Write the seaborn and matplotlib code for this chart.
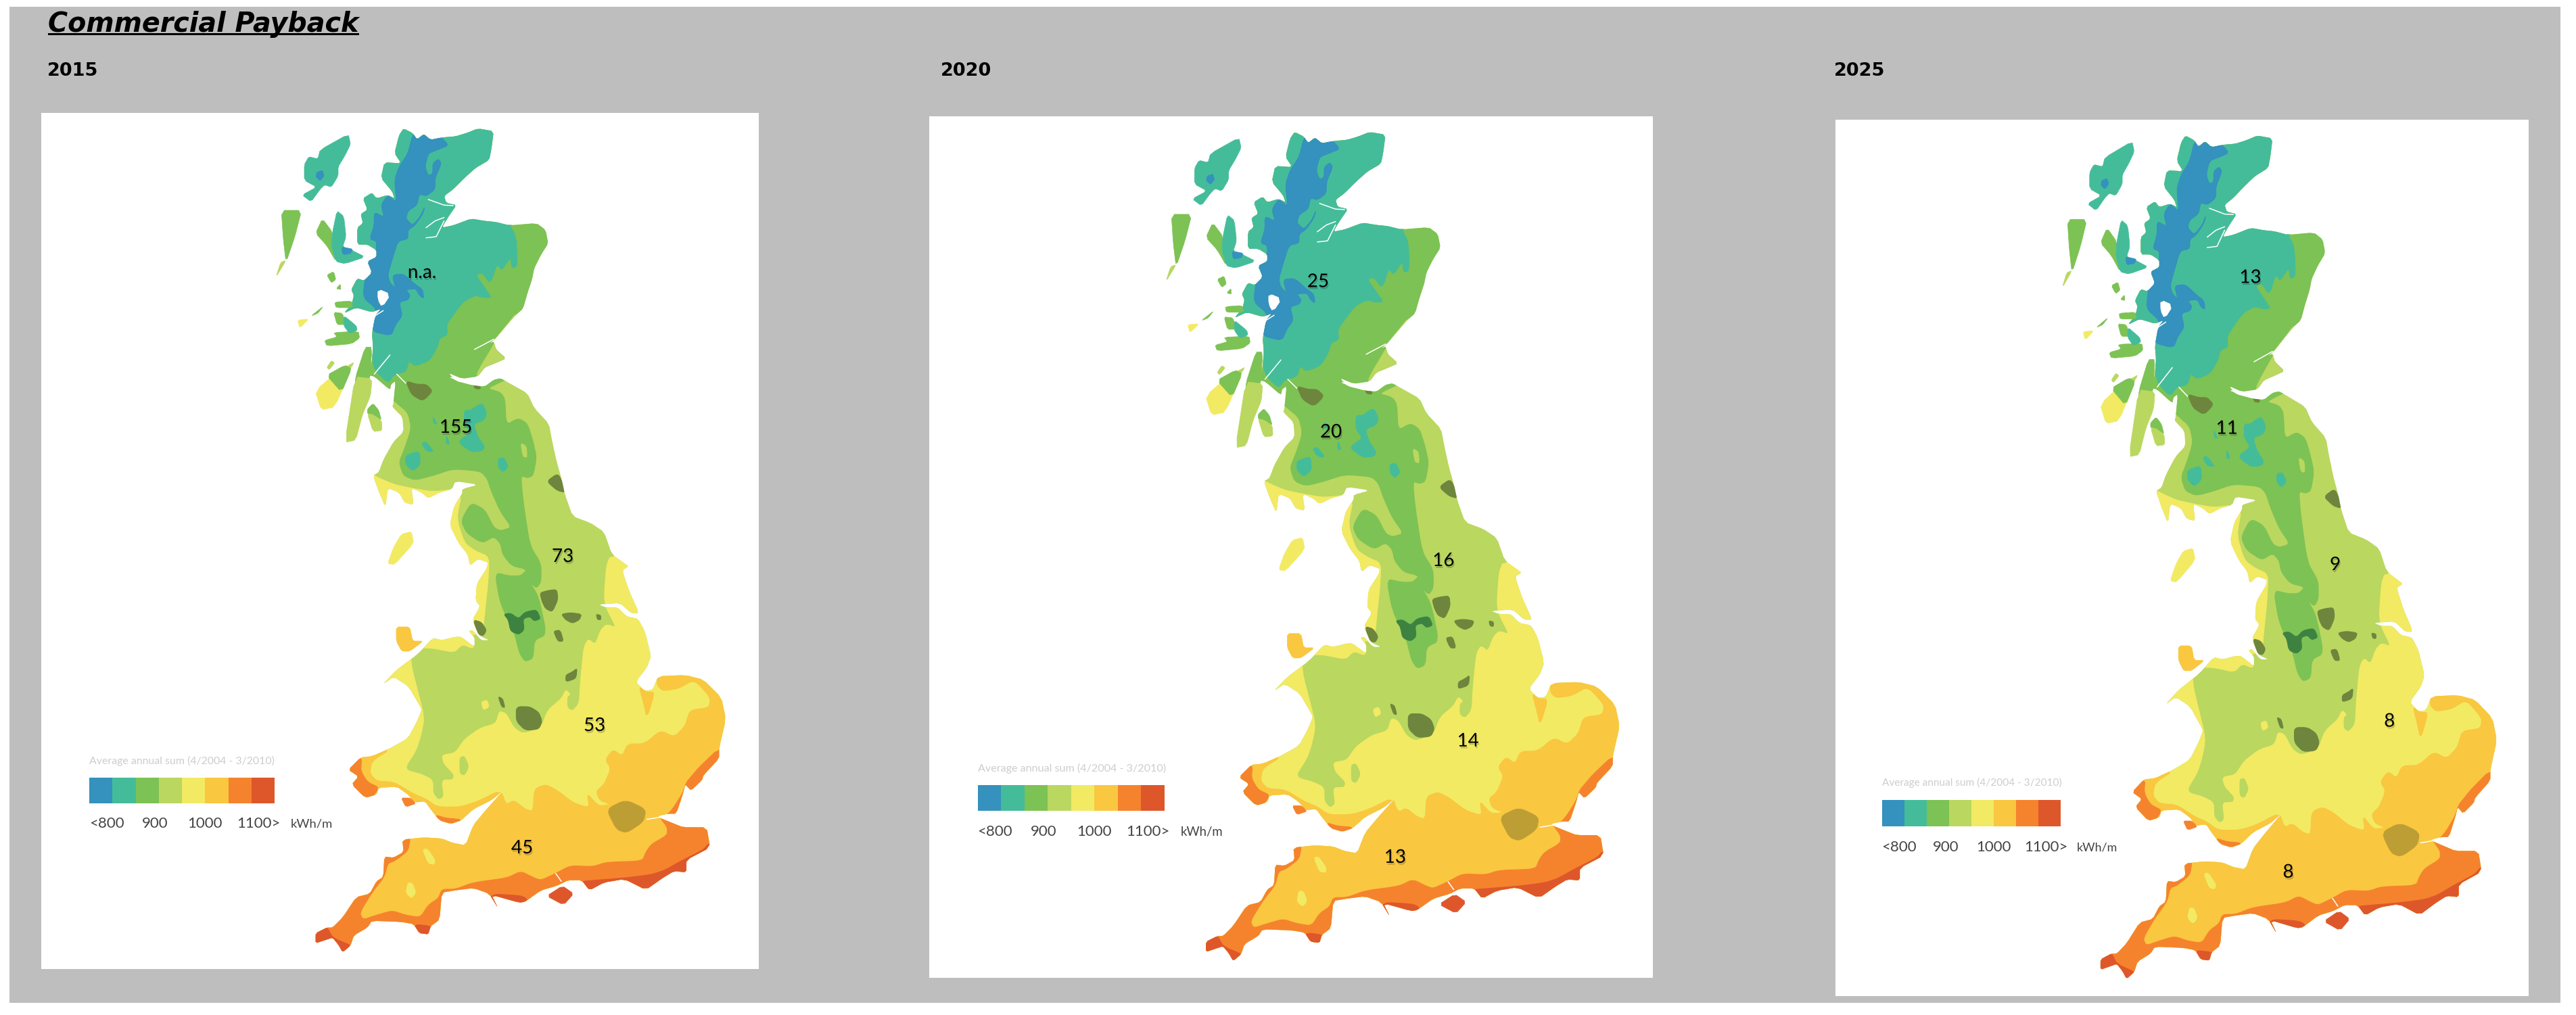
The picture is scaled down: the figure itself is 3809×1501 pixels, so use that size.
import matplotlib
matplotlib.use("Agg")
import matplotlib.pyplot as plt
import matplotlib.patheffects as pe
import seaborn as sns
import numpy as np
from matplotlib.colors import ListedColormap
from matplotlib.patches import Polygon, Rectangle, PathPatch
from matplotlib.path import Path

# payback years per region, north to south
years = ["2015", "2020", "2025"]
payback_2015 = ["n.a.", "155", "73", "53", "45"]
payback_2020 = ["25", "20", "16", "14", "13"]
payback_2025 = ["13", "11", "9", "8", "8"]

# colour key
key_ticks = ["<800", "900", "1000", "1100>"]
key_unit = "kWh/m"
key_title = "Average annual sum (4/2004 - 3/2010)"
band_colors = ["#3591BD", "#44BC9A", "#7DC254", "#BAD760",
               "#F2EA63", "#F9C740", "#F5832D", "#DE572B"]
BLUE, TEAL, GREEN, LIME, YELLOW, AMBER, ORANGE, RED = band_colors
OLIVE = "#6E853D"
DARK_GREEN = "#3D8240"
OCHRE = "#BD9E35"


def pts(ox, oy, xy):
    return [(ox + x / 3, oy + y / 3) for x, y in xy]


A = (440, 180)
B = (540, 540)
C = (640, 800)
D = (440, 1050)
E = (780, 960)

coast = (
    pts(*A, [(470, 30), (510, 50), (530, 78), (560, 55), (590, 80), (640, 70), (700, 65), (750, 50), (800, 30),
             (870, 42), (860, 120), (850, 170), (790, 205), (740, 250), (690, 300), (650, 330), (660, 360),
             (705, 370), (670, 420), (640, 470), (690, 460), (770, 430), (830, 440), (880, 445), (940, 460),
             (1060, 450), (1100, 480), (1112, 540), (1080, 590), (1050, 650), (1040, 700), (1020, 760),
             (1000, 830), (965, 860), (930, 900), (880, 960), (850, 985), (870, 975), (880, 1010), (925, 1050),
             (880, 1070), (830, 1090), (800, 1130)])
    + pts(*B, [(430, 60), (370, 35), (400, 70), (480, 90), (530, 95), (570, 65), (600, 58), (640, 80), (720, 125),
               (750, 190), (815, 260), (830, 340), (850, 430), (870, 500), (885, 570), (920, 670), (1000, 700),
               (1060, 740), (1095, 840), (1165, 890)])
    + pts(*C, [(865, 115), (840, 130), (870, 220), (915, 320), (880, 320), (830, 275), (735, 282), (770, 295),
               (820, 295), (860, 335), (910, 345), (940, 400), (968, 510), (950, 560), (900, 625), (940, 665),
               (975, 660), (1000, 600)])
    + pts(*E, [(700, 115), (780, 135), (860, 215), (880, 310), (850, 440), (850, 485), (780, 560), (775, 580),
               (725, 628), (700, 600), (690, 640), (660, 730), (625, 730), (580, 740), (590, 750), (640, 770),
               (690, 790), (795, 790), (810, 880), (705, 935), (705, 990), (650, 985), (600, 1015), (525, 1068),
               (430, 1020), (340, 1035), (275, 1070), (240, 1025), (180, 1025), (130, 1050), (60, 1070)])
    + pts(*D, [(1010, 850), (985, 855), (860, 820), (890, 880), (850, 815), (780, 790), (700, 800), (640, 810),
               (630, 930), (590, 960), (580, 995), (540, 990), (515, 950), (460, 940), (330, 935), (310, 965),
               (250, 1000), (235, 1045), (200, 1075), (180, 1040), (155, 1010), (125, 1020), (80, 1035), (80, 990),
               (130, 965), (155, 965), (200, 920), (260, 830), (320, 815), (350, 760), (380, 740), (385, 650),
               (425, 655), (470, 630), (465, 575), (560, 565), (640, 570), (690, 590), (745, 600), (780, 510),
               (830, 450), (915, 355), (860, 400), (780, 440), (725, 490), (680, 505), (630, 490), (590, 440),
               (565, 405), (520, 410), (490, 375), (440, 340), (360, 345), (350, 375), (300, 390), (240, 330),
               (270, 295), (225, 265), (280, 210), (330, 205), (410, 170), (490, 125), (530, 50), (550, 0)])
    + [(622, 1046), (604, 1015), (582, 1001), (566, 1012), (586, 991), (618, 967)]
    + pts(*C, [(0, 430), (40, 440), (100, 425), (125, 425), (185, 470), (185, 430), (160, 400), (175, 395),
               (215, 440), (250, 440), (205, 420), (175, 350), (210, 290), (190, 265), (195, 190), (240, 120),
               (245, 95), (200, 80), (165, 110), (155, 60), (115, 10)])
    + pts(*B, [(375, 710), (395, 625), (430, 570), (430, 550), (500, 530), (400, 515), (385, 550), (330, 565),
               (280, 590), (250, 565), (205, 545), (215, 620), (175, 610), (150, 565), (100, 545), (90, 630),
               (60, 560), (35, 490), (60, 475), (80, 420), (125, 340), (170, 295), (165, 230), (120, 185),
               (125, 170), (135, 70)])
    + pts(*A, [(415, 1165), (410, 1190), (340, 1130), (315, 1125), (330, 1060), (335, 1000), (330, 940),
               (345, 860), (370, 830), (330, 845), (260, 825), (205, 850), (240, 810), (250, 770), (238, 745),
               (265, 695), (295, 705), (330, 670), (310, 620), (350, 600), (350, 570), (310, 545), (265, 545),
               (265, 470), (290, 450), (280, 410), (310, 390), (290, 340), (330, 315), (350, 340), (400, 325),
               (430, 340), (420, 310), (370, 250), (385, 180), (460, 185), (430, 140), (450, 60)])
)

green_band = (
    pts(*A, [(-100, -100), (1300, -100), (1300, 1000)])
    + pts(*B, [(530, 100), (600, 120), (620, 150), (625, 265), (680, 235), (720, 260), (745, 340), (760, 410),
               (745, 490), (720, 500), (690, 490), (700, 600), (730, 800), (780, 880), (780, 960), (760, 990),
               (730, 960), (715, 905), (650, 890), (610, 840), (600, 790), (570, 760), (520, 790), (450, 745),
               (425, 690), (470, 610), (530, 640), (570, 720), (600, 735), (650, 720), (600, 650), (560, 560),
               (540, 500), (510, 470), (390, 460), (300, 490), (220, 510), (170, 490), (150, 430), (175, 370),
               (205, 280), (190, 210), (130, 160), (100, 130), (0, 130)])
)
green_midlands = pts(*C, [(275, 140), (340, 155), (390, 155), (420, 125), (430, 180), (470, 250), (505, 415),
                          (450, 440), (445, 520), (410, 535), (385, 500), (360, 400), (300, 280)])
lime_fife = pts(*A, [(965, 855), (930, 900), (880, 960), (870, 990), (810, 1090), (790, 1135), (1000, 1135), (1000, 855)])
lime_hole = pts(*B, [(690, 345), (715, 360), (718, 410), (700, 405)])

teal_north = pts(*A, [(935, 450), (970, 510), (975, 640), (950, 650), (945, 600), (905, 660), (885, 630), (855, 720),
                      (820, 670), (790, 680), (840, 750), (860, 780), (820, 780), (790, 770), (740, 795), (710, 830),
                      (660, 900), (665, 945), (630, 960), (620, 1000), (585, 1060), (520, 1085), (495, 1060),
                      (480, 1110), (430, 1120), (400, 1160), (340, 1100), (325, 1000), (335, 950), (230, 910),
                      (180, 800), (220, 300), (400, -50), (900, -50), (1200, 300)])
teal_spots = [
    pts(*B, [(180, 400), (240, 380), (245, 440), (210, 470), (180, 440)]),
    pts(*B, [(250, 345), (270, 340), (305, 385), (270, 380)]),
    pts(*B, [(300, 225), (318, 262), (305, 260)]),
    pts(*B, [(360, 310), (375, 350), (360, 350)]),
    pts(*B, [(440, 200), (470, 200), (495, 180), (520, 170), (540, 215), (525, 245), (480, 260), (500, 320),
             (530, 360), (520, 380), (470, 385), (410, 340), (470, 300), (440, 260)]),
    pts(*B, [(590, 415), (615, 410), (635, 450), (610, 475), (590, 450)]),
]
blue_band = pts(*A, [(510, 60), (530, 50), (560, 55), (590, 80), (640, 70), (670, 105), (620, 125), (580, 140), (565, 200),
                     (580, 240), (600, 230), (600, 185), (625, 165), (638, 185), (610, 250), (610, 300), (570, 330),
                     (540, 320), (530, 370), (490, 395), (480, 430), (510, 460), (545, 420), (565, 375), (555, 410),
                     (520, 460), (490, 480), (490, 520), (445, 530), (420, 610), (400, 680), (410, 715), (435, 740),
                     (420, 680), (470, 675), (520, 720), (555, 745), (560, 785), (540, 770), (525, 740), (480, 745),
                     (500, 770), (490, 790), (450, 800), (465, 860), (435, 900), (415, 950), (330, 930), (340, 880),
                     (350, 830), (290, 780), (300, 690), (320, 680), (310, 620), (350, 570), (350, 530), (320, 520),
                     (340, 460), (340, 400), (385, 425), (370, 370), (400, 325), (440, 360), (430, 260), (450, 200),
                     (490, 140)])

yellow_galloway = pts(*B, [(0, 470), (70, 505), (130, 530), (200, 545), (300, 562), (400, 550), (410, 570), (300, 700), (0, 700)])
yellow_cumbria = pts(*B, [(430, 560), (405, 680), (440, 790), (490, 825), (550, 850), (545, 960), (530, 1100), (520, 1200), (250, 1200), (250, 560)])
yellow_south = (
    pts(*C, [(1500, 60), (790, 60), (770, 110), (760, 250), (770, 300), (815, 385), (770, 370), (745, 395), (720, 460),
             (690, 435), (670, 470), (655, 620), (650, 720), (620, 755), (595, 740), (595, 690), (610, 680),
             (590, 660), (570, 700), (510, 750), (480, 830), (400, 855), (360, 830), (325, 765), (295, 755),
             (280, 810), (210, 830), (140, 880), (100, 940), (40, 950)])
    + pts(*D, [(650, 240), (695, 285), (690, 310), (640, 310), (650, 385), (625, 400), (600, 370), (600, 310),
               (550, 285), (490, 270), (480, 250), (525, 180), (545, 120), (560, 50), (555, 0)])
    + [(606, 977), (614, 958)]
    + pts(*C, [(0, 475), (95, 495), (130, 458), (185, 480), (170, 400), (-500, 400), (-500, 1800), (1500, 1800)])
)
yellow_spot = pts(*C, [(215, 715), (240, 705), (250, 735), (225, 750)])
lime_spot = pts(*C, [(120, 960), (140, 955), (160, 1000), (140, 1040), (120, 1030)])

amber_wales = pts(*D, [(420, 170), (330, 225), (320, 280), (350, 315), (430, 320), (510, 370), (570, 395), (620, 430),
                       (720, 430), (800, 405), (900, 355), (880, 420), (700, 520), (400, 500), (150, 400), (150, 200)])
amber_south = (
    pts(*D, [(900, 350), (925, 420), (960, 400), (1010, 440), (1045, 450)])
    + pts(*E, [(30, 620), (80, 600), (130, 625), (200, 680), (275, 705), (265, 640), (300, 680), (320, 695), (370, 690),
               (320, 670), (305, 630), (340, 600), (370, 530), (345, 490), (380, 445), (420, 475), (445, 420),
               (520, 420), (590, 360), (650, 390), (700, 340), (720, 270), (805, 260), (812, 215), (740, 135),
               (670, 175), (600, 185), (575, 160), (575, 120), (600, -50), (1200, -50), (1200, 1400), (-900, 1400)])
    + pts(*D, [(0, 560), (760, 520)])
)
amber_wash = pts(*E, [(495, 165), (525, 190), (565, 190), (530, 305), (515, 240)])
yellow_devon = [
    pts(*D, [(555, 620), (575, 615), (610, 665), (605, 685), (580, 680)]),
    pts(*D, [(490, 765), (510, 770), (525, 810), (505, 835), (480, 810)]),
]

orange_south = (
    pts(*E, [(1300, 430), (860, 430), (760, 525), (735, 555), (705, 590), (690, 635), (650, 700), (625, 730), (600, 745),
             (590, 750), (620, 790), (620, 825), (550, 865), (525, 900), (510, 940), (350, 945), (290, 965),
             (190, 960), (125, 995), (60, 1025), (30, 1015), (-30, 985)])
    + pts(*D, [(930, 745), (780, 765), (700, 795), (640, 795), (625, 835), (580, 865), (545, 920), (480, 910),
               (420, 890), (350, 910), (290, 930), (275, 900), (330, 810), (385, 740), (400, 680), (430, 670),
               (490, 625), (500, 570), (480, 540), (-100, 540), (-100, 1300)])
    + pts(*E, [(1300, 1300)])
)
orange_pembroke = pts(*D, [(285, 205), (280, 270), (310, 320), (365, 345), (300, 420), (150, 350), (150, 220)])
orange_gwent = pts(*D, [(610, 465), (660, 480), (725, 485), (720, 510), (620, 510)])

red_parts = [
    pts(*D, [(155, 1010), (130, 960), (70, 990), (60, 1050), (125, 1030), (185, 1040), (200, 1090), (250, 1050)]),
    pts(*D, [(515, 950), (600, 960), (590, 1020), (530, 1010)]),
    pts(*D, [(850, 815), (1015, 825), (1020, 880), (880, 890)]),
    pts(*E, [(240, 1030), (300, 1025), (430, 1015), (550, 1000), (610, 980), (680, 940), (780, 890), (805, 860),
             (830, 900), (720, 1010), (530, 1090), (270, 1095), (230, 1050)]),
]

olive_towns = [
    pts(*C, [(475, 230), (510, 220), (550, 215), (555, 260), (530, 315), (500, 300), (485, 270)]),
    pts(*C, [(570, 325), (610, 318), (660, 325), (650, 350), (620, 365), (590, 350)]),
    pts(*C, [(725, 325), (745, 330), (745, 350), (730, 348)]),
    pts(*C, [(535, 400), (565, 395), (580, 445), (555, 445)]),
    pts(*C, [(590, 595), (620, 580), (640, 565), (635, 610), (590, 625)]),
    pts(*C, [(290, 690), (310, 700), (320, 740), (305, 735)]),
    pts(*C, [(370, 735), (430, 735), (470, 760), (485, 800), (470, 835), (410, 840), (370, 800)]),
    pts(*C, [(180, 350), (215, 360), (238, 395), (225, 420), (200, 415)]),
    pts(*B, [(805, 515), (855, 480), (880, 530), (885, 565), (850, 555)]),
    pts(*B, [(180, 70), (230, 85), (270, 85), (300, 115), (255, 160), (205, 130)]),
    pts(*B, [(480, 90), (510, 95), (510, 105), (490, 105)]),
]
dark_manchester = pts(*C, [(315, 325), (345, 320), (380, 345), (410, 315), (460, 305), (478, 345), (450, 355), (430, 335),
                           (400, 345), (405, 395), (380, 415), (345, 400), (335, 350)])
ochre_london = pts(*E, [(350, 710), (435, 668), (525, 710), (515, 765), (440, 815), (395, 800)])

# islands and loose bits, not clipped to the mainland
islands = [
    (TEAL, pts(*A, [(225, 55), (235, 100), (210, 150), (180, 200), (180, 240), (150, 290), (120, 280), (100, 300), (60, 355),
                    (20, 325), (85, 290), (30, 260), (30, 190), (50, 155), (90, 165), (100, 125)])),
    (BLUE, pts(*A, [(85, 225), (110, 215), (118, 240), (100, 262), (82, 245)])),
    (GREEN, pts(*A, [(110, 430), (155, 490), (150, 550), (170, 620), (130, 550), (80, 495)])),
    (TEAL, pts(*A, [(175, 395), (205, 420), (215, 510), (200, 555), (240, 570), (300, 600), (210, 630), (170, 620), (150, 550), (155, 490)])),
    (BLUE, pts(*A, [(195, 555), (245, 565), (235, 585), (200, 590)])),
    (GREEN, pts(*A, [(130, 680), (160, 665), (170, 700), (150, 715)])),
    (GREEN, pts(*A, [(172, 740), (190, 720), (192, 745)])),
    (GREEN, pts(*A, [(165, 800), (240, 795), (245, 825), (170, 825)])),
    (GREEN, pts(*A, [(160, 845), (200, 850), (210, 900), (175, 900)])),
    (GREEN, pts(*A, [(160, 935), (270, 930), (275, 960), (240, 985), (130, 995), (120, 970), (175, 955)])),
    (TEAL, pts(*A, [(205, 860), (260, 905), (265, 925), (230, 940), (205, 905)])),
    (GREEN, pts(*A, [(60, 862), (115, 818), (90, 850)])),
    (YELLOW, pts(*A, [(0, 880), (50, 875), (10, 915)])),
    (GREEN, [(416, 311), (446, 311), (436, 350), (423, 388), (419, 355)]),
    (LIME, [(415, 388), (423, 385), (408, 410)]),
    (GREEN, pts(*B, [(35, 170), (60, 200), (72, 245), (35, 220), (10, 215), (10, 195)])),
    (LIME, pts(*B, [(10, 215), (35, 220), (72, 245), (75, 290), (35, 295)])),
    (GREEN, pts(*A, [(300, 1000), (330, 1000), (320, 1150), (260, 1200), (255, 1140)])),
    (LIME, [(525, 557), (510, 654), (526, 651), (536, 613), (548, 585), (550, 560)]),
    (LIME, pts(*A, [(150, 1060), (165, 1070), (140, 1100), (130, 1090)])),
    (LIME, pts(*A, [(255, 1065), (190, 1155), (210, 1090)])),
    (YELLOW, [(466, 578), (510, 540), (520, 545), (495, 602), (475, 606)]),
    (GREEN, [(483, 555), (510, 540), (520, 545), (505, 580)]),
    (YELLOW, pts(*B, [(205, 738), (215, 790), (130, 885), (100, 880), (125, 810), (160, 750)])),
    (AMBER, [(586, 927), (606, 927), (610, 948), (626, 948), (606, 963), (594, 963), (586, 948)]),
    (ORANGE, pts(*D, [(460, 390), (500, 390), (525, 415), (480, 430)])),
    (RED, pts(*E, [(155, 1050), (205, 1085), (160, 1135), (85, 1095)])),
]

# lochs and firths, thin cuts drawn over the land
loch_blob = pts(*A, [(355, 740), (415, 765), (375, 825), (355, 790)])
loch_cuts = [
    pts(*A, [(380, 838), (345, 860), (320, 915)]),
    pts(*A, [(570, 470), (610, 440), (650, 425)]),
    pts(*A, [(570, 515), (615, 510), (650, 440)]),
    pts(*A, [(785, 1010), (870, 965)]),
    pts(*A, [(680, 1135), (770, 1165)]),
    pts(*A, [(340, 1120), (410, 1035)]),
    pts(*A, [(580, 345), (650, 370), (690, 372)]),
    pts(*A, [(440, 1120), (480, 1160)]),
    pts(*E, [(125, 995), (150, 1030)]),
    pts(*E, [(530, 755), (590, 745)]),
]

# where the numbers sit inside each panel
label_xy = [
    [(624, 403), (674, 632), (832, 823), (879, 1073), (772, 1254)],
    [(631, 410), (650, 631), (815, 820), (851, 1085), (744, 1256)],
    [(696, 395), (660, 613), (826, 810), (909, 1036), (754, 1254)],
]
key_tick_x = [132, 210, 277, 350]
panel_boxes = [(61, 167, 1122, 1433), (1374, 172, 2444, 1446), (2714, 177, 3739, 1473)]
year_xy = [(70, 105), (1391, 105), (2712, 105)]

W, H = 3809, 1501


def chaikin(xy, n=2, r=0.25):
    p = np.array(xy, dtype=float)
    for _ in range(n):
        q = np.roll(p, -1, axis=0)
        p = np.column_stack([(1 - r) * p + r * q, r * p + (1 - r) * q]).reshape(-1, 2)
    return p


def fit_text(ax, x0, x1, y, s, colour, size_guess):
    # squeeze the label to the width it has in the key
    t = ax.text(x0, y, s, fontsize=size_guess, color=colour, va="center", family="Lato")
    box = t.get_window_extent(renderer=ax.figure.canvas.get_renderer())
    px0 = ax.transData.transform((x0, y))[0]
    px1 = ax.transData.transform((x1, y))[0]
    t.set_fontsize(size_guess * (px1 - px0) / box.width)


def draw_map(ax, payback, positions):
    base = chaikin(coast, 1, 0.15)
    ax.add_patch(Polygon(base, closed=True, fc=LIME, ec="none"))
    land_clip = PathPatch(Path(np.vstack([base, base[:1]])), transform=ax.transData)

    big = [(GREEN, green_band), (LIME, lime_fife), (LIME, lime_hole), (GREEN, green_midlands), (TEAL, teal_north)]
    big += [(TEAL, s) for s in teal_spots]
    big += [(BLUE, blue_band), (YELLOW, yellow_galloway), (YELLOW, yellow_cumbria), (YELLOW, yellow_south),
            (YELLOW, yellow_spot), (LIME, lime_spot), (AMBER, amber_wales), (AMBER, amber_south),
            (AMBER, amber_wash)]
    big += [(YELLOW, s) for s in yellow_devon]
    big += [(ORANGE, orange_south), (ORANGE, orange_pembroke), (ORANGE, orange_gwent)]
    big += [(RED, s) for s in red_parts]
    big += [(OLIVE, s) for s in olive_towns]
    big += [(DARK_GREEN, dark_manchester), (OCHRE, ochre_london)]
    for colour, outline in big:
        patch = Polygon(chaikin(outline, 2, 0.18), closed=True, fc=colour, ec=colour, lw=0.8)
        ax.add_patch(patch)
        patch.set_clip_path(land_clip)

    for colour, outline in islands:
        ax.add_patch(Polygon(chaikin(outline, 1, 0.15), closed=True, fc=colour, ec=colour, lw=0.5))

    ax.add_patch(Polygon(chaikin(loch_blob, 1), closed=True, fc="white", ec="none"))
    for cut in loch_cuts:
        c = np.array(cut)
        ax.plot(c[:, 0], c[:, 1], color="white", lw=1.1, solid_capstyle="round")

    for (x, y), label in zip(positions, payback):
        t = ax.text(x, y, label, ha="center", va="center", fontsize=20, color="black", family="Lato")
        t.set_path_effects([pe.withSimplePatchShadow(offset=(1, -2), shadow_rgbFace="black", alpha=0.2)])


def draw_key(ax):
    fit_text(ax, 132, 406, 1125, key_title, "#cdcdcd", 12)
    bar = ax.inset_axes([132, 1150, 274, 38], transform=ax.transData)
    sns.heatmap(np.arange(len(band_colors)).reshape(1, -1), ax=bar, cmap=ListedColormap(band_colors),
                cbar=False, xticklabels=False, yticklabels=False)
    for x, label in zip(key_tick_x, key_ticks):
        ax.text(x, 1218, label, fontsize=16, color="#444444", va="center", family="Lato")
    fit_text(ax, 430, 492, 1219, key_unit, "#444444", 12)


sns.set_theme(style="white")
plt.rcParams["font.family"] = ["DejaVu Sans"]

fig = plt.figure(figsize=(W / 100, H / 100), dpi=100, facecolor="white")

# grey page behind the three maps
fig.add_artist(Rectangle((14 / W, 1 - 1483 / H), (3786 - 14) / W, (1483 - 10) / H,
                         transform=fig.transFigure, fc="#BEBEBE", ec="none", zorder=-5))

fig.text(71 / W, 1 - 47 / H, "Commercial Payback", fontsize=28.5, fontweight="bold", fontstyle="italic",
         color="black", va="baseline")
fig.add_artist(Rectangle((71 / W, 1 - 52 / H), 460 / W, 3 / H, transform=fig.transFigure, fc="black", ec="none"))

for year, (x, y) in zip(years, year_xy):
    fig.text(x / W, 1 - y / H, year, fontsize=19.5, fontweight="bold", color="black", va="center")

for i, (box, payback) in enumerate(zip(panel_boxes, [payback_2015, payback_2020, payback_2025])):
    x0, y0, x1, y1 = box
    ax = fig.add_axes([x0 / W, 1 - y1 / H, (x1 - x0) / W, (y1 - y0) / H], facecolor="white")
    ax.set_xlim(61, 1122)
    ax.set_ylim(1433, 167)
    ax.set_xticks([])
    ax.set_yticks([])
    sns.despine(ax=ax, left=True, bottom=True)
    draw_map(ax, payback, label_xy[i])
    draw_key(ax)

fig.savefig("out.png", dpi=100, facecolor="white")
